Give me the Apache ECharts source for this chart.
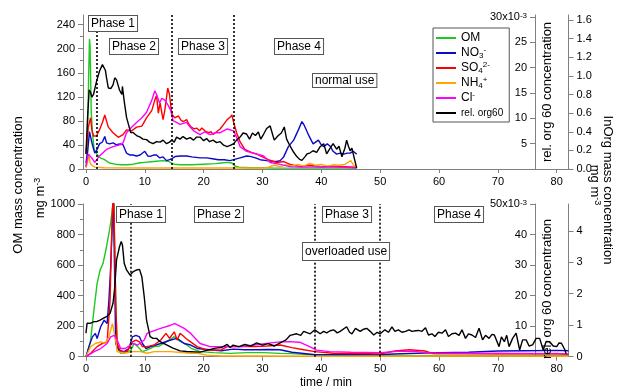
<!DOCTYPE html>
<html>
<head>
<meta charset="utf-8">
<script src="https://cdn.jsdelivr.net/npm/echarts@6/dist/echarts.min.js"></script>
<style>
  html, body { margin: 0; padding: 0; background: #fff; }
  #chart { width: 619px; height: 392px; }
</style>
</head>
<body>
<div id="chart"></div>
<script>
// tick values
const timeTicks = [0, 10, 20, 30, 40, 50, 60, 70, 80];
const topOmTicks = [0, 40, 80, 120, 160, 200, 240];
const topOmMinor = [20, 60, 100, 140, 180, 220];
const topOrgTicks = [5, 10, 15, 20, 25, 30];
const topInorgTicks = [0, 0.2, 0.4, 0.6, 0.8, 1.0, 1.2, 1.4, 1.6];
const botOmTicks = [0, 200, 400, 600, 800, 1000];
const botOmMinor = [100, 300, 500, 700, 900];
const botOrgTicks = [10, 20, 30, 40, 50];
const botInorgTicks = [0, 1, 2, 3, 4];

const seriesNames = ['OM', 'NO3-', 'SO42-', 'NH4+', 'Cl-', 'rel. org60'];
const topPhases = [1.8, 14.5, 25.1];
const botPhases = [7.6, 38.9, 50.0];

// normal use: [time / min, value]; OM in mg m-3, ions in mg m-3 (InOrg axis), org60 in 1e-3
const topOM = [[0,3],[0.2,20],[0.45,150],[0.6,216],[0.7,205],[0.9,95],[1.1,60],[1.4,32],[1.9,24],[2.5,18],[3.1,16],[4,10],[5,8],[6,7],[7,7],[8,8],[9,10],[10,11],[11,12],[12,13],[13,14],[14,13],[14.5,10],[15,8],[16,7],[18,7],[20,8],[22,9],[23,10],[24,11],[24.8,10],[25.3,5],[26,3],[28,2],[30,2],[32,1.5],[34,1.5],[36,1.5],[38,1.5],[40,2],[42,1.5],[44,2],[46,1]];
const topNO3 = [[0,0.065],[0.3,0.19],[0.6,0.40],[0.8,0.39],[1.1,0.26],[1.5,0.17],[1.9,0.21],[2.3,0.27],[2.8,0.29],[3.2,0.35],[3.5,0.28],[4.0,0.27],[4.6,0.28],[5.2,0.26],[5.8,0.27],[6.3,0.26],[6.6,0.25],[6.9,0.17],[7.5,0.15],[8,0.15],[8.6,0.14],[9.2,0.15],[10,0.19],[10.5,0.14],[10.9,0.135],[11.5,0.15],[12,0.15],[12.5,0.12],[13.1,0.13],[13.7,0.09],[14.2,0.10],[14.6,0.11],[15.2,0.135],[16,0.14],[17.1,0.14],[18,0.13],[19.4,0.12],[20.5,0.12],[21.5,0.11],[22.5,0.10],[23.5,0.10],[24.5,0.09],[25.1,0.10],[26.2,0.12],[27.3,0.14],[27.9,0.135],[28.8,0.12],[29.6,0.10],[30.7,0.09],[31.5,0.085],[32.4,0.08],[33,0.09],[33.6,0.13],[34.4,0.24],[35.3,0.31],[36.1,0.42],[36.7,0.51],[37,0.48],[37.3,0.44],[37.9,0.355],[38.6,0.27],[39.5,0.31],[40,0.26],[40.4,0.24],[41,0.27],[41.5,0.245],[42,0.19],[42.6,0.16],[43.2,0.17],[43.8,0.16],[44.4,0.17],[44.9,0.17],[45.4,0.19],[46,0.16]];
const topSO4 = [[0,0.16],[0.4,0.45],[0.8,0.55],[1.0,0.42],[1.3,0.355],[1.8,0.355],[2.3,0.42],[2.8,0.50],[3.2,0.58],[3.8,0.45],[4.6,0.39],[5.5,0.34],[6.3,0.37],[6.9,0.42],[7.8,0.41],[8.6,0.45],[9.5,0.46],[10.3,0.55],[11.2,0.63],[11.7,0.74],[12.0,0.79],[12.3,0.60],[12.6,0.71],[13.1,0.53],[13.4,0.63],[13.9,0.87],[14.2,0.80],[14.5,0.63],[14.7,0.58],[15.1,0.55],[15.7,0.57],[16.2,0.52],[16.6,0.51],[17.1,0.53],[17.5,0.48],[17.9,0.45],[18.4,0.43],[18.8,0.44],[19.3,0.41],[19.7,0.44],[20.2,0.41],[20.8,0.39],[21.3,0.40],[21.6,0.37],[22.2,0.40],[22.8,0.43],[23.4,0.48],[24.0,0.53],[24.5,0.555],[24.8,0.58],[25.1,0.50],[25.6,0.39],[26.2,0.29],[27,0.21],[28,0.18],[29,0.16],[30,0.13],[31,0.10],[32.4,0.07],[33.6,0.08],[34.7,0.05],[36.4,0.026],[38,0.04],[40,0.026],[42,0.03],[44,0.026],[46,0.02]];
const topNH4 = [[0,0.013],[0.3,0.08],[0.5,0.16],[0.7,0.065],[1.0,0.04],[1.5,0.02],[3,0.013],[10,0.01],[20,0.01],[30,0.01],[31,0.02],[32,0.04],[33,0.026],[34,0.045],[35,0.03],[36,0.05],[37,0.03],[38,0.06],[39,0.04],[40,0.05],[41,0.03],[42,0.045],[43,0.04],[44,0.05],[45,0.09],[45.5,0.04],[46,0.013]];
const topCl = [[0,0.026],[0.4,0.16],[0.7,0.18],[1.1,0.11],[1.5,0.07],[2.3,0.14],[3.5,0.21],[4.6,0.24],[5.8,0.26],[6.3,0.28],[6.9,0.39],[7.8,0.45],[8.6,0.50],[9.5,0.55],[10.3,0.61],[11.2,0.74],[11.7,0.84],[12.0,0.80],[12.5,0.71],[12.9,0.76],[13.4,0.74],[14.0,0.68],[14.4,0.63],[14.8,0.52],[15.4,0.50],[16,0.48],[17.1,0.50],[17.7,0.45],[18.3,0.41],[19.4,0.37],[20.2,0.40],[21.1,0.37],[22,0.39],[22.8,0.39],[24,0.43],[25.1,0.41],[25.6,0.34],[26.2,0.24],[27.3,0.19],[28.5,0.17],[30.2,0.14],[31.3,0.07],[33,0.05],[34.7,0.026],[37,0.02],[40,0.026],[43,0.02],[46,0.013]];
const topOrg = [[0,3.0],[0.3,10.7],[0.55,15.6],[0.8,15.1],[1.0,14.2],[1.3,14.8],[1.8,17.3],[2.3,19.3],[2.8,20.6],[3.0,20.9],[3.3,19.5],[3.5,18.0],[3.8,16.0],[4.25,15.9],[4.6,16.6],[4.9,18.0],[5.2,17.6],[5.7,15.6],[6.1,14.7],[6.2,16.3],[6.5,13.4],[6.9,10.2],[7.2,8.9],[7.6,7.2],[8.0,7.2],[8.6,6.6],[9.2,6.3],[9.7,5.9],[10.3,5.8],[10.8,5.3],[11.4,5.0],[12,5.4],[12.6,5.3],[13.1,5.7],[13.7,5.0],[14.2,5.3],[14.6,5.7],[15.0,5.3],[15.4,6.3],[16,5.9],[16.5,6.4],[17.1,5.9],[17.7,6.2],[18.3,5.7],[18.8,6.3],[19.4,6.3],[20,5.6],[20.5,6.0],[21,5.4],[21.6,5.7],[22.2,5.2],[22.8,5.4],[23.4,4.7],[24,4.4],[24.6,4.7],[25.1,5.0],[25.6,5.7],[26.2,6.3],[26.7,7.1],[27.3,6.9],[27.8,5.9],[28.3,7.1],[28.8,6.6],[29.3,7.3],[29.7,5.9],[30.2,6.9],[30.7,8.0],[31.3,8.5],[32,5.7],[32.6,6.5],[33.2,7.1],[33.7,8.3],[34.1,5.9],[34.7,4.5],[35.3,3.3],[35.8,2.5],[36.3,1.9],[36.7,1.7],[37.2,2.4],[37.6,3.0],[38.1,3.2],[38.6,3.6],[39.2,3.3],[39.8,4.4],[40.4,5.0],[40.9,3.0],[41.5,4.1],[42.0,5.0],[42.6,3.9],[43.0,4.5],[43.5,2.4],[44.0,4.1],[44.3,5.7],[44.6,4.5],[44.9,3.6],[45.2,4.1],[45.5,2.6],[46,0.2]];

// overloaded use
const botOM = [[0,0],[0.4,40],[0.8,110],[1.36,306],[1.9,480],[2.4,567],[2.9,610],[3.5,720],[4.1,851],[4.6,993],[4.75,1040],[4.85,800],[5.05,371],[5.3,66],[5.9,22],[7.0,33],[7.6,40],[8.2,88],[8.8,66],[9.6,33],[10.4,45],[11.6,66],[12.5,70],[13.3,88],[14.2,110],[15.0,131],[15.5,115],[16.1,98],[17.0,80],[17.9,55],[19.4,33],[21.7,27],[24.5,22],[27.3,27],[30.2,27],[33,22],[35,20],[37,15],[39,10],[42,8],[45,8],[50,6],[55,7],[60,8],[65,7],[70,8],[75,8],[80,9],[82,8]];
const botNO3 = [[0,0],[0.5,0.32],[1.1,0.63],[1.6,0.74],[1.9,0.58],[2.5,0.95],[3.1,1.16],[3.6,1.05],[3.9,1.79],[4.2,2.84],[4.5,4.31],[4.65,5.06],[4.85,2.89],[5.05,0.42],[5.6,0.21],[6.5,0.16],[7.3,0.26],[7.9,0.63],[8.5,0.68],[9.1,0.63],[9.6,0.42],[10.2,0.26],[11,0.32],[12.7,0.42],[14.4,0.53],[15.5,0.58],[16.7,0.42],[17.8,0.37],[19,0.26],[21,0.22],[23,0.19],[25,0.24],[27,0.22],[29,0.22],[31,0.23],[33,0.22],[35,0.14],[37,0.10],[39,0.06],[42,0.06],[45,0.06],[50,0.07],[55,0.10],[60,0.13],[65,0.14],[70,0.18],[75,0.19],[80,0.20],[82,0.19]];
const botSO4 = [[0,0],[0.8,0.11],[1.9,0.32],[2.8,0.42],[3.6,0.47],[4.1,1.79],[4.3,3.37],[4.5,4.73],[4.7,5.06],[4.9,3.37],[5.1,1.45],[5.3,0.42],[5.9,0.16],[7.0,0.16],[7.9,0.47],[8.5,0.53],[9.1,0.47],[9.6,0.32],[10.4,0.32],[11.6,0.37],[12.7,0.53],[13.6,0.74],[14.2,0.58],[15.0,0.79],[15.5,0.53],[16.0,0.74],[16.4,0.68],[17.0,0.58],[17.8,0.47],[18.9,0.32],[20.6,0.21],[22.9,0.21],[24,0.32],[26.3,0.32],[28.6,0.32],[30.8,0.34],[33,0.37],[35,0.29],[37,0.22],[38.9,0.16],[42,0.11],[46,0.10],[50,0.09],[52.5,0.18],[55,0.22],[57.6,0.18],[59,0.10],[65,0.09],[70,0.10],[75,0.09],[80,0.10],[82,0.07]];
const botNH4 = [[0,0],[0.8,0.32],[1.6,0.42],[2.5,0.47],[3.3,0.42],[3.9,0.63],[4.5,1.05],[4.8,1.10],[5.05,0.53],[5.3,0.16],[6.5,0.11],[7.9,0.16],[9.3,0.16],[10.4,0.11],[11.6,0.16],[14.4,0.16],[17.8,0.11],[18.9,0.11],[20.6,0.05],[23,0.024],[30,0.02],[40,0.015],[50,0.015],[60,0.02],[70,0.02],[82,0.015]];
const botCl = [[0,0],[1.4,0.16],[2.5,0.26],[3.6,0.42],[4.2,0.63],[4.8,0.68],[5.3,0.53],[5.9,0.26],[6.7,0.26],[7.9,0.42],[8.8,0.37],[9.9,0.53],[10.4,0.74],[11.0,0.79],[12.7,0.90],[14.4,1.00],[15.1,1.05],[15.8,0.99],[16.7,0.90],[17.8,0.74],[19.4,0.42],[21.1,0.32],[23.4,0.32],[26.3,0.32],[28.6,0.37],[31.4,0.44],[33,0.47],[34.5,0.48],[36.3,0.46],[38,0.32],[39.2,0.21],[41.4,0.16],[45,0.14],[50,0.13],[53,0.17],[56,0.17],[58,0.12],[65,0.11],[70,0.10],[75,0.10],[82,0.09]];
const botOrg = [[0,7.7],[0.2,11.0],[0.7,10.9],[1.4,11.5],[1.8,11.5],[2.4,12.0],[3.0,12.6],[3.5,13.1],[4.1,14.2],[4.6,17.5],[4.9,22.9],[5.2,31.7],[5.7,36.0],[6.0,37.7],[6.2,36.6],[6.5,30.6],[6.9,28.4],[7.5,26.7],[8.0,27.8],[8.6,28.4],[9.1,28.6],[9.5,26.2],[9.9,19.7],[10.3,12.0],[10.9,6.6],[11.4,6.0],[12,6.0],[12.6,4.9],[13.7,3.9],[14.8,2.8],[16,1.9],[17.1,1.7],[19.4,1.5],[21,2.3],[22,2.8],[23,3.0],[24,4.0],[24.5,3.0],[25,3.8],[26,3.3],[27,4.0],[28,3.5],[29,4.5],[30,3.8],[31,4.3],[32,3.5],[33,4.5],[34,5.5],[34.7,7.0],[35.8,7.5],[36.5,7.0],[37,8.3],[38.1,7.5],[38.9,8.8],[39.8,7.5],[40.4,8.3],[40.9,7.8],[41.5,8.5],[42.1,8.8],[42.7,7.8],[43.2,8.3],[44.3,9.8],[44.8,8.0],[45.2,7.5],[45.8,9.3],[46.6,8.3],[47.2,9.0],[47.7,9.3],[48.3,8.3],[48.9,7.1],[49.5,8.0],[50.0,7.5],[50.8,8.8],[51.4,8.0],[52,9.8],[52.5,8.3],[53.1,8.8],[53.7,8.0],[54.3,8.3],[54.9,8.8],[55.4,8.3],[56,8.5],[56.5,8.6],[57.1,8.3],[57.7,9.5],[58.2,7.1],[58.8,7.5],[59.3,6.6],[59.9,8.0],[60.5,7.7],[61.1,8.8],[61.6,6.6],[62.2,7.5],[62.8,7.7],[63.4,7.0],[63.9,8.8],[64.5,6.0],[65,7.5],[65.6,7.1],[66.2,6.3],[66.8,9.3],[67.4,5.5],[67.9,7.0],[68.5,6.0],[69,7.3],[69.4,7.1],[70.2,3.3],[70.6,6.5],[71.1,4.9],[71.5,7.0],[71.9,3.3],[72.5,6.0],[73.1,7.7],[73.7,2.2],[74.2,5.5],[74.8,5.5],[75.3,3.5],[75.9,3.9],[76.5,6.0],[77.1,6.0],[77.7,2.2],[78.2,5.0],[78.8,4.9],[79.4,3.5],[80,3.3],[80.4,4.5],[80.8,4.4],[81.4,2.2],[81.6,1.0]];

const FONT = '"Liberation Sans", Arial, sans-serif';
const AXIS = '#808080';
const colors = ['#1ec81e', '#0a0ac8', '#ff0000', '#ffa500', '#ff00ff', '#000000'];

const chart = echarts.init(document.getElementById('chart'));

const gridL = 83, gridW = 485.5;

function xAxis(gridIndex) {
  return {
    type: 'value', gridIndex, min: -0.5, max: 82,
    axisLine: { onZero: false, lineStyle: { color: AXIS } },
    axisTick: { customValues: timeTicks, length: 4, lineStyle: { color: AXIS } },
    axisLabel: {
      customValues: timeTicks, color: '#000', fontSize: 11, fontFamily: FONT, margin: 7,
      formatter: (v) => String(v),
    },
    splitLine: { show: false },
  };
}

function yAxis(gridIndex, max, ticks, opts = {}) {
  const inside = !!opts.inside;
  return {
    type: 'value', gridIndex, min: 0, max,
    position: opts.position || 'left',
    offset: opts.offset || 0,
    axisLine: { show: opts.line !== false, onZero: false, lineStyle: { color: AXIS } },
    axisTick: { customValues: ticks, length: opts.tickLen || 5, inside, lineStyle: { color: AXIS } },
    axisLabel: {
      show: opts.labels !== false, customValues: ticks, inside, margin: 8,
      color: '#000', fontSize: 11, fontFamily: FONT,
      formatter: opts.fmt || ((v) => String(v)),
      rich: { sup: { fontSize: 8, fontFamily: FONT, color: '#000', verticalAlign: 'top', lineHeight: 8 } },
    },
    splitLine: { show: false },
  };
}

const orgFmt = (top) => (v) => (v === top ? top + 'x10{sup|-3}' : String(v));

function line(name, data, xi, yi, color, extra) {
  return Object.assign({
    name, type: 'line', data, xAxisIndex: xi, yAxisIndex: yi,
    symbol: 'none', animation: false,
    lineStyle: { color, width: 1.4 }, itemStyle: { color },
  }, extra || {});
}

function phaseLines(values) {
  return {
    silent: true, symbol: ['none', 'none'], animation: false,
    label: { show: false },
    lineStyle: { color: '#000', type: [2, 2], width: 1.6 },
    data: values.map((v) => ({ xAxis: v })),
  };
}

function box(text, x, y, pad) {
  return {
    type: 'text', x, y, z: 100,
    style: {
      text, font: '12px ' + FONT, fill: '#000',
      backgroundColor: '#fff', borderColor: '#555', borderWidth: 1,
      padding: pad || [2, 2, 1, 2],
    },
  };
}

function label(text, x, y, rotation, size) {
  return {
    type: 'text', x, y, rotation, z: 100,
    style: {
      text, font: (size || 13) + 'px ' + FONT, fill: '#000',
      align: 'center', verticalAlign: 'middle',
      rich: { sup: { fontSize: 9, fontFamily: FONT, fill: '#000', verticalAlign: 'top', lineHeight: 9 } },
    },
  };
}

const legendText = {
  'OM': 'OM',
  'NO3-': 'NO{sub|3}{sup|-}',
  'SO42-': 'SO{sub|4}{sup|2-}',
  'NH4+': 'NH{sub|4}{sup|+}',
  'Cl-': 'Cl{sup|-}',
  'rel. org60': '{s|rel. org60}',
};

const up = Math.PI / 2, down = -Math.PI / 2;

chart.setOption({
  backgroundColor: '#fff',
  animation: false,
  grid: [
    { left: gridL, top: 15, width: gridW, height: 154 },
    { left: gridL, top: 204, width: gridW, height: 152.7 },
  ],
  xAxis: [xAxis(0), xAxis(1)],
  yAxis: [
    yAxis(0, 256, topOmTicks),
    yAxis(0, 256, topOmMinor, { line: false, labels: false, tickLen: 3 }),
    yAxis(0, 30.4, topOrgTicks, { position: 'right', offset: -33.5, inside: true, fmt: orgFmt(30) }),
    yAxis(0, 1.654, topInorgTicks, { position: 'right', fmt: (v) => v.toFixed(1) }),
    yAxis(1, 1000, botOmTicks),
    yAxis(1, 1000, botOmMinor, { line: false, labels: false, tickLen: 3 }),
    yAxis(1, 50, botOrgTicks, { position: 'right', offset: -33.5, inside: true, fmt: orgFmt(50) }),
    yAxis(1, 4.85, botInorgTicks, { position: 'right' }),
  ],
  legend: {
    left: 433, top: 28, orient: 'vertical',
    padding: [3, 6, 2, 3], itemGap: 1, itemWidth: 20, itemHeight: 2, icon: 'rect',
    borderColor: '#555', borderWidth: 1, backgroundColor: '#fff',
    data: seriesNames, selectedMode: false,
    formatter: (name) => legendText[name],
    textStyle: {
      fontSize: 12, fontFamily: FONT, color: '#000', lineHeight: 14,
      rich: {
        sub: { fontSize: 8, fontFamily: FONT, verticalAlign: 'bottom', lineHeight: 8 },
        sup: { fontSize: 8, fontFamily: FONT, verticalAlign: 'top', lineHeight: 8 },
        s: { fontSize: 10, fontFamily: FONT },
      },
    },
  },
  series: [
    line('OM', topOM, 0, 0, colors[0], { markLine: phaseLines(topPhases) }),
    line('NO3-', topNO3, 0, 3, colors[1]),
    line('SO42-', topSO4, 0, 3, colors[2]),
    line('NH4+', topNH4, 0, 3, colors[3]),
    line('Cl-', topCl, 0, 3, colors[4]),
    line('rel. org60', topOrg, 0, 2, colors[5]),
    line('OM', botOM, 1, 4, colors[0], { markLine: phaseLines(botPhases) }),
    line('NO3-', botNO3, 1, 7, colors[1]),
    line('SO42-', botSO4, 1, 7, colors[2]),
    line('NH4+', botNH4, 1, 7, colors[3]),
    line('Cl-', botCl, 1, 7, colors[4]),
    line('rel. org60', botOrg, 1, 6, colors[5]),
  ],
  graphic: [
    box('Phase 1', 89, 16),
    box('Phase 2', 110, 39),
    box('Phase 3', 179, 39),
    box('Phase 4', 275, 39),
    box('normal use', 313, 74, [1, 2, 0, 2]),
    box('Phase 1', 117, 207),
    box('Phase 2', 195, 207),
    box('Phase 3', 323, 207),
    box('Phase 4', 435, 207),
    box('overloaded use', 303, 243, [3, 2, 2, 2]),
    label('OM mass concentration', 18, 185, up),
    label('mg m{sup|-3}', 40, 198, up),
    label('rel. org 60 concentration', 547, 92, up),
    label('rel. org 60 concentration', 547, 289, up),
    label('InOrg mass concentration', 608, 190, down),
    label('mg m{sup|-3}', 595, 185, down),
    label('time / min', 326, 383, 0, 12),
  ],
});
</script>
</body>
</html>
